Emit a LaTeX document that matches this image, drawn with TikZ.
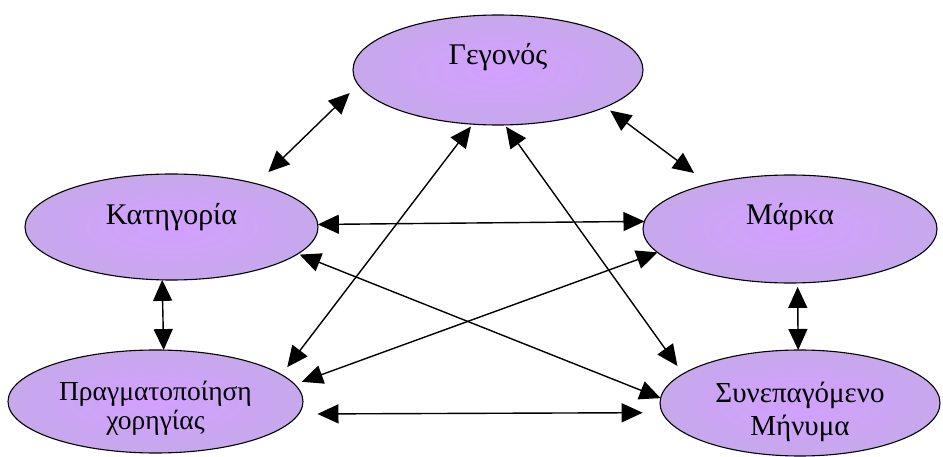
\documentclass[tikz,border=0pt]{standalone}
\usepackage{fontspec}
\setmainfont{Liberation Serif}
\usetikzlibrary{shapes.geometric,arrows.meta}

\definecolor{bubin}{HTML}{D2A0FF}
\definecolor{bubout}{HTML}{C7A8EC}

\tikzset{
  bub/.style={ellipse, draw=black, line width=1.1pt, inner sep=0pt, outer sep=0pt,
    inner color=bubin, outer color=bubout, text=black, align=center},
  one/.style={font=\fontsize{30}{33}\selectfont, text height=20pt},
  arr/.style={line width=1.4pt,
    {Triangle[length=21pt,width=19pt]}-{Triangle[length=21pt,width=19pt]}}
}

\begin{document}
\begin{tikzpicture}[x=1pt,y=-1pt]
\useasboundingbox (0,0) rectangle (943,457);

% the five concepts
\node[bub, one, minimum width=290pt, minimum height=110pt, text depth=30pt] (G) at (498,70) {Γεγονός};
\node[bub, one, minimum width=293pt, minimum height=106pt, text depth=24pt] (K) at (171.5,227) {Κατηγορία};
\node[bub, one, minimum width=294pt, minimum height=108pt, text depth=28pt] (M) at (790,229) {Μάρκα};
\node[bub, font=\fontsize{27.5}{29.5}\selectfont, text height=60pt, text depth=4pt,
      minimum width=295pt, minimum height=103pt] (P) at (155.5,401.5) {Πραγματοποίηση\\χορηγίας};
\node[bub, font=\fontsize{29}{33}\selectfont, text height=66pt, text depth=2pt,
      minimum width=280pt, minimum height=106pt] (S) at (800,403) {Συνεπαγόμενο\\Μήνυμα};

% two-way links between every pair
\draw[arr, shorten <=12pt, shorten >=16.8pt] (G.186.9) -- (K.27.7);
\draw[arr, shorten <=6pt, shorten >=18.4pt] (G.341.1) -- (M.151.05);
\draw[arr] (K.1.6) -- (M.177.65);
\draw[arr, shorten <=3pt, shorten >=9.5pt] (G.245.8) -- (P.12.8);
\draw[arr, shorten <=2.2pt, shorten >=9.75pt] (G.277.7) -- (S.166.1);
\draw[arr, shorten <=2pt] (K.348.7) -- (S.178.1);
\draw[arr, shorten >=7.65pt] (M.190.4) -- (P.7.05);
\draw[arr, shorten <=18.9pt, shorten >=19.7pt] (P.355.3) -- (S.184.3);
\draw[arr] (K.260.9) -- (P.81.7);
\draw[arr, shorten <=4pt] (M.278.4) -- (S.92.2);
\end{tikzpicture}
\end{document}
